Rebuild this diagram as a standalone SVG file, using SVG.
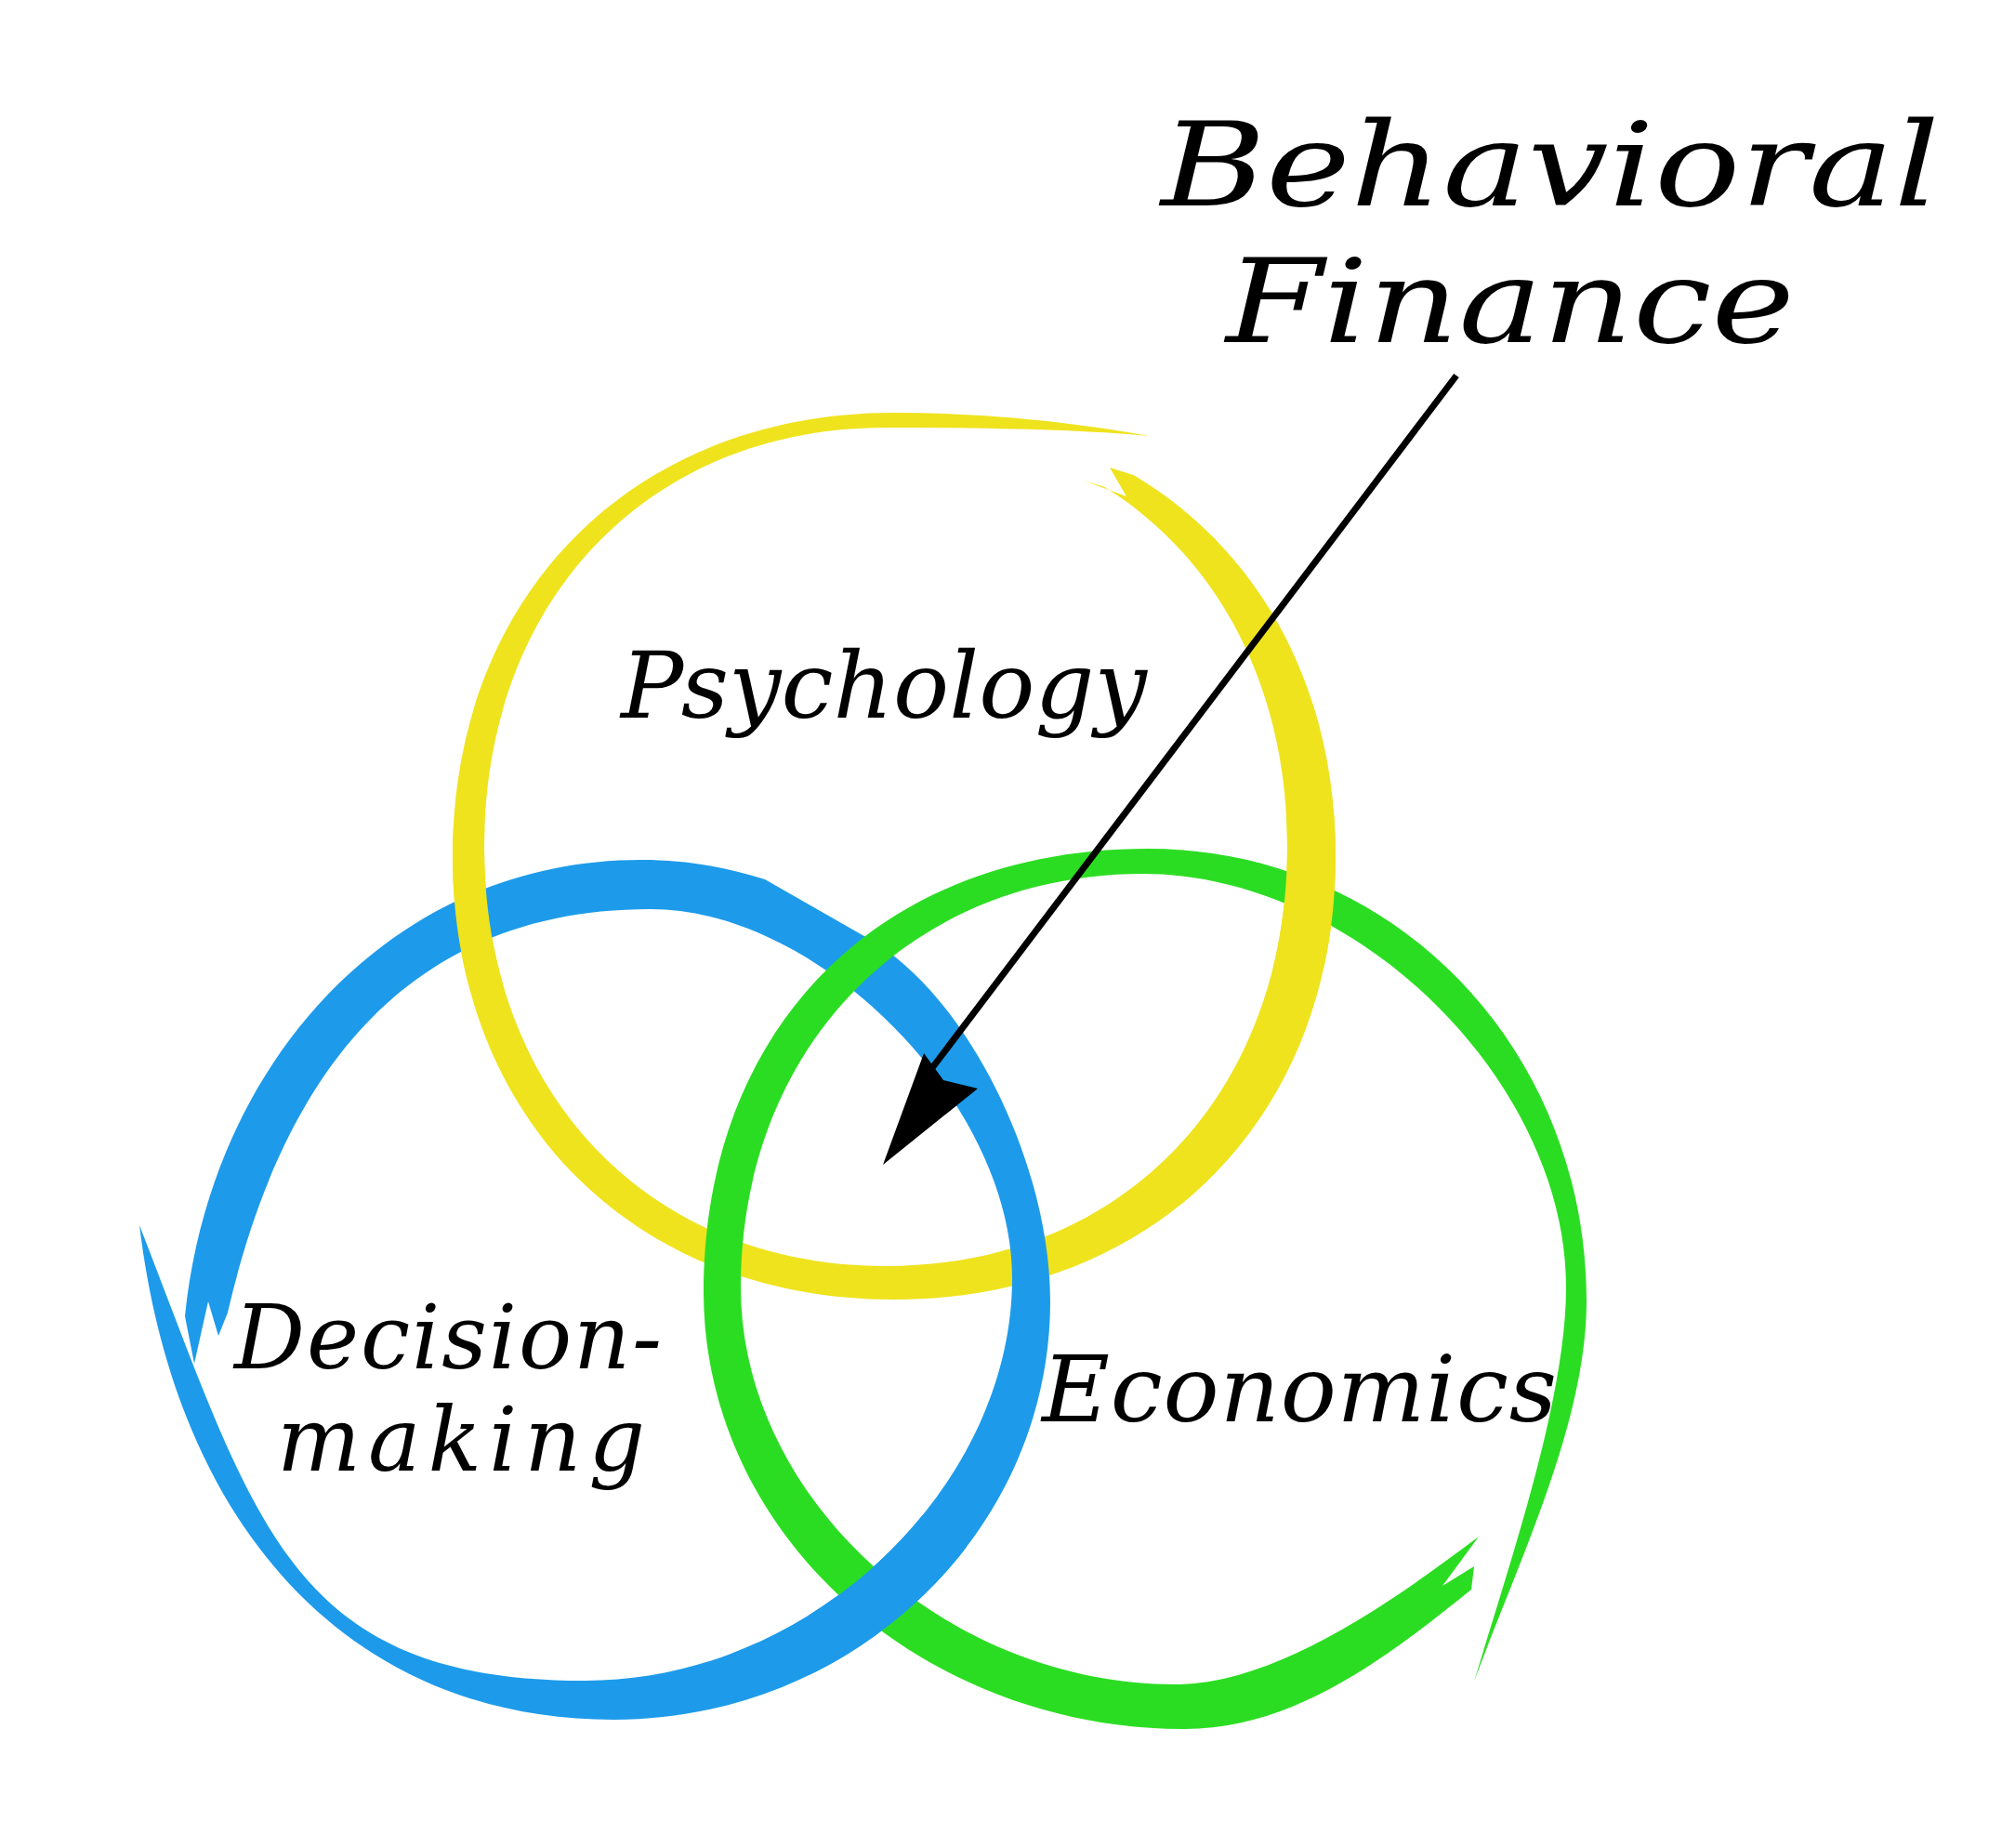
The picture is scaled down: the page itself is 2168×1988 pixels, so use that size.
<svg xmlns="http://www.w3.org/2000/svg" xmlns:xlink="http://www.w3.org/1999/xlink" width="2168" height="1988" viewBox="0 0 2168 1988">
<style>
.y{fill:#EFE31E}
.b{fill:#1D9BEA}
.g{fill:#2BDD22}
.lbl{font-family:"DejaVu Serif","Liberation Serif",serif;font-style:italic;fill:#000}
.arrow{stroke:#000;stroke-width:7;fill:none;stroke-linecap:butt}
</style>
<defs>
<path id="ringY" class="y" d="M 1236 469 C 1160 455 1062 444 962 444 C 681.7 444 487 639.6 487 921 C 487 1202.4 681.7 1398 962 1398 C 1242.3 1398 1437 1202.4 1437 921 C 1437 738.1 1354.7 591.5 1220.1 511.2 L 1194 503 L 1212 534 L 1166 517 L 1187.8 523.5 C 1310.2 599.4 1385 738 1385 911 C 1385 1177.1 1207.9 1362 953 1362 C 698.1 1362 521 1177.1 521 911 C 521 644.9 698.1 460 953 460 C 1053 460 1165 462 1236 469 Z"/>
<path id="ringB" class="b" d="M 150 1318 C 190 1648 380 1850 660 1850 C 918 1850 1130 1648 1130 1400 C 1130 1250 1039 1070 935 1010 L 823 946 C 780 933 740 925 690 925 C 420 925 226 1146 199 1416 L 209 1467 L 224 1400 L 235 1437 L 245 1412 C 305 1152 440 978 700 978 C 883 978 1089 1188 1089 1375 C 1089 1598 874 1808 630 1808 C 310 1808 275 1638 150 1318 Z"/>
<path id="ringG" class="g" d="M 1586 1809 C 1634 1679 1707 1530 1707 1400 C 1707 1127 1499 913 1235 913 C 948 913 757 1104 757 1390 C 757 1649 990 1860 1275 1860 C 1395 1860 1497 1779 1583 1710 L 1586 1685 L 1552 1706 L 1591 1653 C 1503 1719 1375 1812 1265 1812 C 1017 1812 797 1611 797 1385 C 797 1127 979 940 1230 940 C 1458 940 1685 1162 1685 1385 C 1685 1505 1625 1679 1586 1809 Z"/>
<clipPath id="cYB"><rect x="455" y="890" width="110" height="170"/></clipPath>
<clipPath id="cYG"><rect x="1345" y="870" width="120" height="170"/></clipPath>
<clipPath id="cBG"><rect x="870" y="1630" width="170" height="180"/></clipPath>
</defs>
<rect width="2168" height="1988" fill="#fff"/>
<g id="psychology-ring"><use xlink:href="#ringY"/></g>
<g id="decision-making-ring"><use xlink:href="#ringB"/></g>
<g id="economics-ring"><use xlink:href="#ringG"/></g>
<g id="weave">
<use xlink:href="#ringY" clip-path="url(#cYB)"/>
<use xlink:href="#ringY" clip-path="url(#cYG)"/>
<use xlink:href="#ringB" clip-path="url(#cBG)"/>
</g>
<g id="psychology"><text class="lbl" x="668" y="772" font-size="100" textLength="566">Psychology</text></g>
<g id="decision-making">
<text class="lbl" x="252" y="1472" font-size="95" textLength="460">Decision-</text>
<text class="lbl" x="298" y="1582" font-size="95" textLength="396">making</text>
</g>
<g id="economics"><text class="lbl" x="1121" y="1529" font-size="100" textLength="554">Economics</text></g>
<g id="behavioral-finance">
<text class="lbl" x="1249" y="221" font-size="125" textLength="838" lengthAdjust="spacingAndGlyphs">Behavioral</text>
<text class="lbl" x="1319" y="368" font-size="125" textLength="612" lengthAdjust="spacingAndGlyphs">Finance</text>
</g>
<g id="connectors">
<line class="arrow" x1="1567" y1="404" x2="990" y2="1166"/>
<polygon points="950,1253 994,1133 1015,1162 1052,1171" fill="#000"/>
</g>
</svg>
